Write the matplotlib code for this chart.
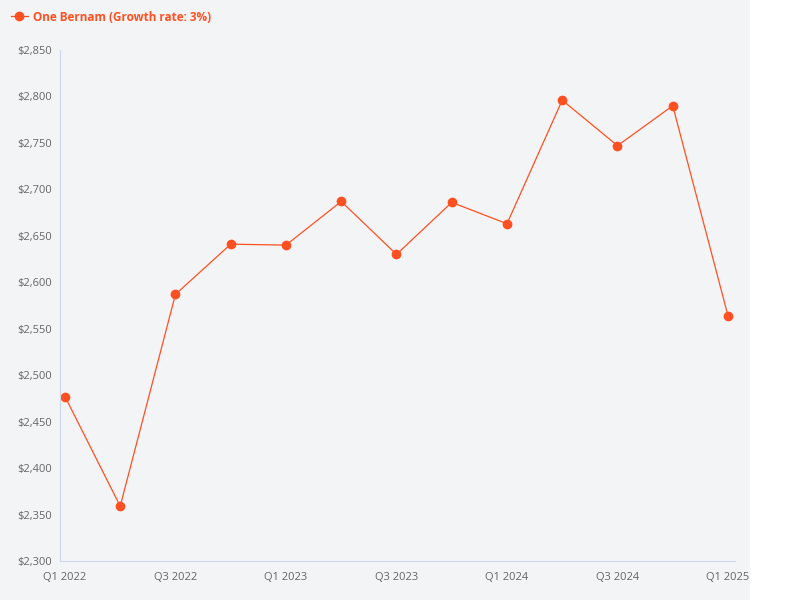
import matplotlib
matplotlib.use("Agg")
import matplotlib.pyplot as plt
from matplotlib.patches import Rectangle
from matplotlib.lines import Line2D

plt.rcParams['font.family'] = ['Open Sans', 'DejaVu Sans']

quarters = ["Q1 2022","Q2 2022","Q3 2022","Q4 2022","Q1 2023","Q2 2023","Q3 2023",
            "Q4 2023","Q1 2024","Q2 2024","Q3 2024","Q4 2024","Q1 2025"]
values = [2477, 2359, 2587, 2641, 2640, 2687, 2630, 2686, 2663, 2796, 2747, 2790, 2564]
series_name = "One Bernam (Growth rate: 3%)"
color = "#ff5022"

fig = plt.figure(figsize=(8, 6), dpi=100)
fig.patches.append(Rectangle((0, 0), 750/800, 1, transform=fig.transFigure,
                             facecolor="#f3f4f6", edgecolor="none", zorder=-10))
ax = fig.add_axes([60/800, 39/600, 675/800, 511/600])
ax.set_zorder(1)
ax.set_facecolor("none")
x = list(range(len(quarters)))
ax.plot(x, values, color=color, lw=0.9, marker="o", ms=6, clip_on=False)
ax.set_xlim(-0.09, 12.127)
ax.set_ylim(2300, 2850)
ax.set_yticks(range(2300, 2851, 50))
ax.set_yticklabels([f"${v:,}" for v in range(2300, 2851, 50)])
ax.set_xticks(x[::2])
ax.set_xticklabels(quarters[::2])
for s in ["top", "right"]:
    ax.spines[s].set_visible(False)
for s in ["left", "bottom"]:
    ax.spines[s].set_color("#ccd6eb")
ax.tick_params(axis="both", length=0, labelsize=8, colors="#666666", pad=6)
ax.tick_params(axis="x", pad=8)

leg = fig.legend(handles=[Line2D([], [], color=color, marker="o", ms=6, lw=0.9)],
           labels=[series_name], loc="upper left", bbox_to_anchor=(0.0, 1.0),
           frameon=False, handlelength=1.5, handletextpad=0.4,
           prop={"weight": "bold", "size": 8.5}, labelcolor=color)
leg.set_zorder(5)
fig.savefig("out.png", dpi=100)
